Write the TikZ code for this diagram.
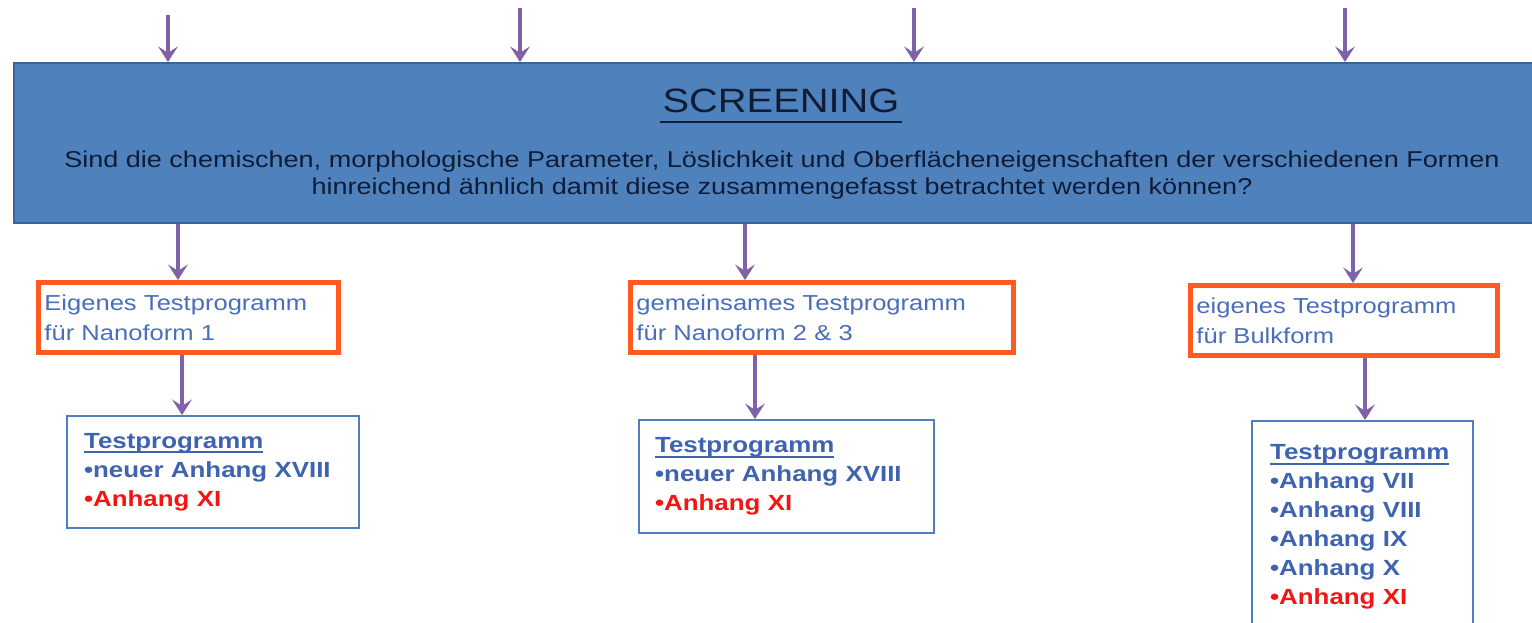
\documentclass[tikz,border=0pt]{standalone}
\usepackage{fontspec}
\setmainfont{Liberation Sans}[FakeStretch=1.18]
\usetikzlibrary{positioning,arrows.meta}

\definecolor{screenfill}{HTML}{4F81BD}
\definecolor{screenline}{HTML}{3B6397}
\definecolor{darktext}{HTML}{0F1C36}
\definecolor{orangeline}{HTML}{FF5A1F}
\definecolor{formtext}{HTML}{4A6EBA}
\definecolor{progline}{HTML}{4F7DC2}
\definecolor{progtext}{HTML}{3E63B0}
\definecolor{annexred}{HTML}{F41414}
\definecolor{arrowviolet}{HTML}{7F62A8}

\newcommand{\ulprog}[1]{\sbox0{#1}\rlap{\rule[-3.4pt]{\wd0}{1.5pt}}\usebox0}

\tikzset{
 arr/.style={draw=arrowviolet,line width=2.5pt,-{Stealth[length=11pt,width=14pt,inset=4.5pt]}},
 formbox/.style={draw=orangeline,line width=3.5pt,fill=white,anchor=north west,align=left,inner xsep=0.15cm,text=formtext,font=\fontsize{15.4}{21.3}\selectfont},
 progbox/.style={draw=progline,line width=1.6pt,fill=white,anchor=north west,align=left,text=progtext,font=\fontsize{15.6}{20.6}\selectfont\bfseries}
}

\begin{document}
\begin{tikzpicture}
 \useasboundingbox (0,0) rectangle (38.3,-15.55);
 % screening block
 \node[draw=screenline,line width=1.4pt,fill=screenfill,anchor=north west,minimum width=38.3cm,minimum height=4.0cm] (screen) at (0.325,-1.55) {};
 \node[anchor=base,inner sep=0pt,text=darktext,font=\fontsize{24}{28}\selectfont] (title) at (19.525,-2.8) {SCREENING};
 \draw[darktext,line width=1.4pt] ([xshift=-2pt,yshift=-7pt]title.base west) -- ([xshift=2pt,yshift=-7pt]title.base east);
 \node[anchor=base,inner sep=0pt,align=center,text=darktext,font=\fontsize{16.3}{19.2}\selectfont] (question) at (19.55,-4.85)
  {Sind die chemischen, morphologische Parameter, Löslichkeit und Oberflächeneigenschaften der verschiedenen Formen\\
   hinreichend ähnlich damit diese zusammengefasst betrachtet werden können?};

 % incoming arrows
 \coordinate (in1) at (4.2,-0.375);
 \coordinate (in2) at (13.0,-0.2);
 \coordinate (in3) at (22.85,-0.2);
 \coordinate (in4) at (33.625,-0.2);
 \draw[arr] (in1) -- (in1 |- screen.north);
 \draw[arr] (in2) -- (in2 |- screen.north);
 \draw[arr] (in3) -- (in3 |- screen.north);
 \draw[arr] (in4) -- (in4 |- screen.north);

 % test programmes per form
 \node[formbox,text width=7.2cm,minimum height=1.75cm] (form1) at (0.9,-7.0) {Eigenes Testprogramm\\für Nanoform 1};
 \node[formbox,text width=9.275cm,minimum height=1.75cm] (form2) at (15.7,-7.0) {gemeinsames Testprogramm\\für Nanoform 2 \& 3};
 \node[formbox,text width=7.375cm,minimum height=1.75cm] (form3) at (29.7,-7.075) {eigenes Testprogramm\\für Bulkform};

 \node[progbox,inner xsep=0.425cm,text width=6.45cm,minimum height=2.8cm] (prog1) at (1.65,-10.375)
  {\ulprog{Testprogramm}\\•neuer Anhang XVIII\\\textcolor{annexred}{•Anhang XI}};
 \node[progbox,inner xsep=0.4cm,text width=6.575cm,minimum height=2.825cm] (prog2) at (15.95,-10.475)
  {\ulprog{Testprogramm}\\•neuer Anhang XVIII\\\textcolor{annexred}{•Anhang XI}};
 \node[progbox,inner xsep=0.45cm,text width=4.625cm,minimum height=5.3cm] (prog3) at (31.275,-10.5)
  {\ulprog{Testprogramm}\\•Anhang VII\\•Anhang VIII\\•Anhang IX\\•Anhang X\\\textcolor{annexred}{•Anhang XI}};

 \draw[arr] (screen.south -| 4.45,0) -- (form1.north -| 4.45,0);
 \draw[arr] (screen.south -| 18.625,0) -- (form2.north -| 18.625,0);
 \draw[arr] (screen.south -| 33.825,0) -- (form3.north -| 33.825,0);

 \draw[arr] (form1.south -| 4.55,0) -- (prog1.north -| 4.55,0);
 \draw[arr] (form2.south -| 18.875,0) -- (prog2.north -| 18.875,0);
 \draw[arr] (form3.south -| 34.125,0) -- (prog3.north -| 34.125,0);
\end{tikzpicture}
\end{document}
